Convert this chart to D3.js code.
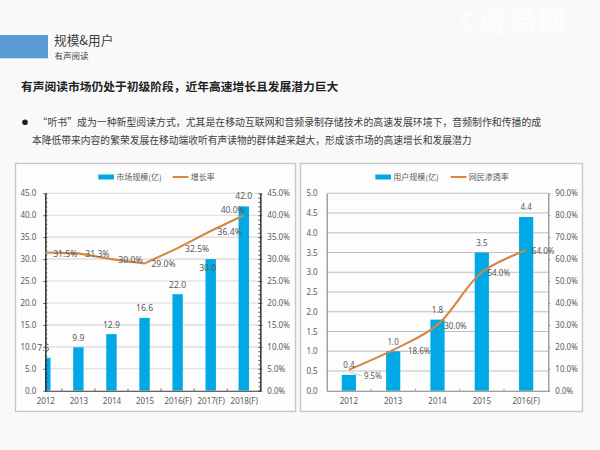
<!DOCTYPE html>
<html>
<head>
<meta charset="utf-8">
<script src="https://cdn.jsdelivr.net/npm/d3@7"></script>
<style>
  html, body { margin: 0; padding: 0; background: #f9f9f9; }
  svg { display: block; }
  text { font-family: "Noto Sans CJK SC", "Noto Sans", sans-serif; }
</style>
</head>
<body>
<div id="chart"></div>
<script>
// left chart
const marketYears = ['2012', '2013', '2014', '2015', '2016(F)', '2017(F)', '2018(F)'];
const marketSize = [7.5, 9.9, 12.9, 16.6, 22.0, 30.0, 42.0];
const marketGrowth = [31.5, 31.3, 30.0, 29.0, 32.5, 36.4, 40.0];
const marketTicks = [0, 5, 10, 15, 20, 25, 30, 35, 40, 45];

// right chart
const userYears = ['2012', '2013', '2014', '2015', '2016(F)'];
const userSize = [0.4, 1.0, 1.8, 3.5, 4.4];
const userRate = [9.5, 18.6, 30.0, 54.0, 64.0];
const userTicks = [0, 0.5, 1, 1.5, 2, 2.5, 3, 3.5, 4, 4.5, 5];
const rateTicks = [0, 10, 20, 30, 40, 50, 60, 70, 80, 90];

// slide text
const slideTitle = '规模&用户';
const slideSub = '有声阅读';
const heading = '有声阅读市场仍处于初级阶段，近年高速增长且发展潜力巨大';
const bodyLines = [
    '“听书”成为一种新型阅读方式，尤其是在移动互联网和音频录制存储技术的高速发展环境下，音频制作和传播的成',
    '本降低带来内容的繁荣发展在移动端收听有声读物的群体越来越大，形成该市场的高速增长和发展潜力'
];

const barColor = '#00a9e6';
const lineColor = '#d68640';
const textColor = '#595959';

const svg = d3.select('#chart').append('svg').attr('width', 600).attr('height', 450);

svg.append('rect').attr('width', 600).attr('height', 450).attr('fill', '#f9f9f9');

// header block
svg.append('rect').attr('x', 0).attr('y', 35).attr('width', 48).attr('height', 23.3).attr('fill', '#5b9bd5');
svg.append('text').attr('x', 54).attr('y', 45.3).attr('font-size', 12.7).attr('fill', '#404040').text(slideTitle);
svg.append('text').attr('x', 54.5).attr('y', 59).attr('font-size', 8.5).attr('fill', '#404040').text(slideSub);

// faint watermark, top right
svg.append('text').attr('x', 460).attr('y', 33).attr('font-size', 29).attr('font-weight', 700).attr('fill', '#fcfcfc').text('C威易网');
svg.append('text').attr('x', 462).attr('y', 49).attr('font-size', 8).attr('letter-spacing', 4).attr('fill', '#fcfcfc').text('WWW.WEIYI.NET');

svg.append('text').attr('x', 21).attr('y', 91).attr('font-size', 11.75).attr('font-weight', 700).attr('fill', '#222').text(heading);

svg.append('circle').attr('cx', 25).attr('cy', 122.3).attr('r', 2.8).attr('fill', '#222');
svg.append('text').attr('x', 37.5).attr('y', 125.8).attr('font-size', 9.9).attr('fill', '#404040').text(bodyLines[0]);
svg.append('text').attr('x', 32).attr('y', 143.5).attr('font-size', 9.77).attr('fill', '#404040').text(bodyLines[1]);

// shared frame + legend + gridlines for a chart panel
function drawPanel(opts) {
    const g = svg.append('g');

    g.append('rect')
        .attr('x', opts.box[0]).attr('y', opts.box[1])
        .attr('width', opts.box[2] - opts.box[0]).attr('height', opts.box[3] - opts.box[1])
        .attr('fill', '#fdfdfd').attr('stroke', '#c8c8c8').attr('stroke-width', 1.4);

    g.selectAll('line.grid')
        .data(opts.gridTicks)
        .join('line')
        .attr('class', 'grid')
        .attr('x1', opts.left).attr('x2', opts.right)
        .attr('y1', d => opts.yLeft(d)).attr('y2', d => opts.yLeft(d))
        .attr('stroke', opts.gridColor).attr('stroke-width', 1.1);

    // legend
    const lg = opts.legend;
    g.append('rect').attr('x', lg.barX).attr('y', 174.5).attr('width', 15.7).attr('height', 5).attr('fill', barColor);
    g.append('text').attr('x', lg.barX + 18).attr('y', 179.6).attr('font-size', 8).attr('fill', textColor).text(lg.barName);
    g.append('line').attr('x1', lg.lineX).attr('x2', lg.lineX + 15.7).attr('y1', 177).attr('y2', 177)
        .attr('stroke', lineColor).attr('stroke-width', 2);
    g.append('text').attr('x', lg.lineX + 18).attr('y', 179.6).attr('font-size', 8).attr('fill', textColor).text(lg.lineName);

    return g;
}

function styleAxis(sel, color) {
    sel.selectAll('.domain').attr('stroke', color).attr('stroke-width', 1.1);
    sel.selectAll('.tick line').attr('stroke', color).attr('stroke-width', 0.8);
    sel.selectAll('.tick text').attr('font-size', 8).attr('fill', textColor)
        .style('font-family', '"Noto Sans", sans-serif');
}

const plotTop = 193.3;
const plotBottom = 390.7;

// ---- left chart: market size ----
(function() {
    const left = 45.3, right = 260.3;
    const x = d3.scaleLinear().domain([0, 6.5]).range([left, left + 6.5 * 33.08]);
    const yLeft = d3.scaleLinear().domain([0, 45]).range([plotBottom, plotTop]);
    const yRight = d3.scaleLinear().domain([0, 45]).range([plotBottom, plotTop]);

    const g = drawPanel({
        box: [15.5, 163.5, 295.5, 411.5], left, right, yLeft, gridColor: '#d9d9d9', gridTicks: marketTicks.slice(1),
        legend: { barX: 98.3, barName: '市场规模(亿)', lineX: 172.7, lineName: '增长率' }
    });

    // first bar sits on the axis, so it gets clipped
    svg.append('clipPath').attr('id', 'clip-market').append('rect')
        .attr('x', left).attr('y', plotTop).attr('width', right - left).attr('height', plotBottom - plotTop);

    g.append('g').attr('clip-path', 'url(#clip-market)')
        .selectAll('rect')
        .data(marketSize)
        .join('rect')
        .attr('x', (d, i) => x(i) - 5.2)
        .attr('width', 10.4)
        .attr('y', d => yLeft(d))
        .attr('height', d => plotBottom - yLeft(d))
        .attr('fill', barColor);

    // minor ticks every 1.0 point inward on both value axes
    const minor = d3.range(0, 46, 1);
    const minorL = g.append('g').attr('transform', `translate(${left},0)`)
        .call(d3.axisRight(yLeft).tickValues(minor).tickFormat('').tickSize(2).tickSizeOuter(0));
    styleAxis(minorL, '#333');
    const minorR = g.append('g').attr('transform', `translate(${right},0)`)
        .call(d3.axisLeft(yRight).tickValues(minor).tickFormat('').tickSize(2).tickSizeOuter(0));
    styleAxis(minorR, '#333');

    const axisL = g.append('g').attr('transform', `translate(${left},0)`)
        .call(d3.axisLeft(yLeft).tickValues(marketTicks).tickFormat(d3.format('.1f')).tickSize(2).tickSizeOuter(0));
    styleAxis(axisL, '#333');
    const axisR = g.append('g').attr('transform', `translate(${right},0)`)
        .call(d3.axisRight(yRight).tickValues(marketTicks).tickFormat(d => d3.format('.1f')(d) + '%').tickSize(2).tickSizeOuter(0));
    styleAxis(axisR, '#333');
    axisL.selectAll('.tick text').attr('x', -9);
    axisR.selectAll('.tick text').attr('x', 7);

    const axisB = g.append('g').attr('transform', `translate(0,${plotBottom})`)
        .call(d3.axisBottom(x).tickValues(d3.range(marketYears.length)).tickFormat(i => marketYears[i]).tickSize(0).tickSizeOuter(0));
    styleAxis(axisB, '#333');
    axisB.selectAll('.tick text').attr('y', 8);

    // category boundary ticks sit halfway between years
    g.selectAll('line.cat-tick')
        .data(d3.range(marketYears.length))
        .join('line')
        .attr('class', 'cat-tick')
        .attr('x1', i => x(i + 0.5)).attr('x2', i => x(i + 0.5))
        .attr('y1', plotBottom).attr('y2', plotBottom - 2)
        .attr('stroke', '#333').attr('stroke-width', 0.8);

    g.append('path')
        .datum(marketGrowth)
        .attr('fill', 'none')
        .attr('stroke', lineColor)
        .attr('stroke-width', 2.1)
        .attr('d', d3.line().x((d, i) => x(i)).y(d => yRight(d)));

    const barOffsets = [[-2, -9.6], [0, -9.6], [0, -9.6], [0, -9.6], [0, -9.6], [-3, 9], [0, -10]];
    g.selectAll('text.bar-label')
        .data(marketSize)
        .join('text')
        .attr('class', 'bar-label')
        .attr('x', (d, i) => x(i) + barOffsets[i][0])
        .attr('y', (d, i) => yLeft(d) + barOffsets[i][1] + 3)
        .attr('text-anchor', 'middle').attr('font-size', 8.6).attr('fill', textColor)
        .style('font-family', '"Noto Sans", sans-serif')
        .text(d => d.toFixed(1));

    const lineOffsets = [[20, 1], [19, 1], [19, 1], [19, 1], [19.5, 1], [19, 1], [-11, -5]];
    g.selectAll('text.line-label')
        .data(marketGrowth)
        .join('text')
        .attr('class', 'line-label')
        .attr('x', (d, i) => x(i) + lineOffsets[i][0])
        .attr('y', (d, i) => yRight(d) + lineOffsets[i][1] + 3)
        .attr('text-anchor', 'middle').attr('font-size', 8.6).attr('fill', textColor)
        .style('font-family', '"Noto Sans", sans-serif')
        .text(d => d.toFixed(1) + '%');
})();

// ---- right chart: users ----
(function() {
    const left = 326.7, right = 548.3;
    const x = d3.scaleBand().domain(userYears).range([left, right]).paddingInner(0.68).paddingOuter(0.34);
    const yLeft = d3.scaleLinear().domain([0, 5]).range([plotBottom, plotTop]);
    const yRight = d3.scaleLinear().domain([0, 90]).range([plotBottom, plotTop]);
    const cx = i => x(userYears[i]) + x.bandwidth() / 2;

    const g = drawPanel({
        box: [300.5, 163.5, 582.5, 411.5], left, right, yLeft, gridColor: '#bfbfbf', gridTicks: userTicks.slice(1),
        legend: { barX: 375.3, barName: '用户规模(亿)', lineX: 450.7, lineName: '网民渗透率' }
    });

    g.selectAll('rect.bar')
        .data(userSize)
        .join('rect')
        .attr('class', 'bar')
        .attr('x', (d, i) => x(userYears[i]))
        .attr('width', x.bandwidth())
        .attr('y', d => yLeft(d))
        .attr('height', d => plotBottom - yLeft(d))
        .attr('fill', barColor);

    const axisL = g.append('g').attr('transform', `translate(${left},0)`)
        .call(d3.axisLeft(yLeft).tickValues(userTicks).tickFormat(d3.format('.1f')).tickSize(0).tickSizeOuter(0));
    styleAxis(axisL, '#808080');
    axisL.selectAll('.tick text').attr('x', -9);

    const axisR = g.append('g').attr('transform', `translate(${right},0)`)
        .call(d3.axisRight(yRight).tickValues(rateTicks).tickFormat(d => d.toFixed(1) + '%').tickSize(2).tickSizeOuter(0));
    styleAxis(axisR, '#808080');
    axisR.selectAll('.tick text').attr('x', 7);

    const axisB = g.append('g').attr('transform', `translate(0,${plotBottom})`)
        .call(d3.axisBottom(x).tickSize(0).tickSizeOuter(0));
    styleAxis(axisB, '#808080');
    axisB.selectAll('.tick text').attr('y', 8);

    // category boundary ticks
    g.selectAll('line.cat-tick')
        .data(userYears.slice(1))
        .join('line')
        .attr('class', 'cat-tick')
        .attr('x1', d => x(d) + x.bandwidth() / 2 - x.step() / 2).attr('x2', d => x(d) + x.bandwidth() / 2 - x.step() / 2)
        .attr('y1', plotBottom).attr('y2', plotBottom - 2)
        .attr('stroke', '#808080').attr('stroke-width', 0.8);

    g.append('path')
        .datum(userRate)
        .attr('fill', 'none')
        .attr('stroke', lineColor)
        .attr('stroke-width', 2.1)
        .attr('d', d3.line().x((d, i) => cx(i)).y(d => yRight(d)).curve(d3.curveCatmullRom.alpha(0.5)));

    // leader lines for the first two rate labels
    const leaders = [[1.5, 2.5, 13, 6], [8, 1, 15, 1.5]];
    g.selectAll('line.leader')
        .data(leaders)
        .join('line')
        .attr('class', 'leader')
        .attr('x1', (d, i) => cx(i) + d[0]).attr('y1', (d, i) => yRight(userRate[i]) + d[1])
        .attr('x2', (d, i) => cx(i) + d[2]).attr('y2', (d, i) => yRight(userRate[i]) + d[3])
        .attr('stroke', '#bfbfbf').attr('stroke-width', 0.8);

    g.selectAll('text.bar-label')
        .data(userSize)
        .join('text')
        .attr('class', 'bar-label')
        .attr('x', (d, i) => cx(i))
        .attr('y', d => yLeft(d) - 6.6)
        .attr('text-anchor', 'middle').attr('font-size', 8).attr('fill', textColor)
        .style('font-family', '"Noto Sans", sans-serif')
        .text(d => d.toFixed(1));

    const lineOffsets = [[24, 6], [26, 1.5], [18, 1], [17, 1], [17, 0.3]];
    g.selectAll('text.line-label')
        .data(userRate)
        .join('text')
        .attr('class', 'line-label')
        .attr('x', (d, i) => cx(i) + lineOffsets[i][0])
        .attr('y', (d, i) => yRight(d) + lineOffsets[i][1] + 3)
        .attr('text-anchor', 'middle').attr('font-size', 8).attr('fill', textColor)
        .style('font-family', '"Noto Sans", sans-serif')
        .text(d => d.toFixed(1) + '%');
})();
</script>
</body>
</html>
